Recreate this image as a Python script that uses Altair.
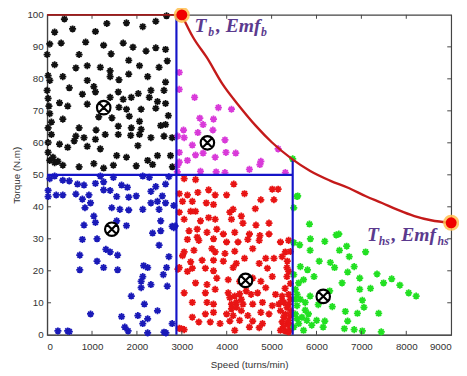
import altair as alt
import pandas as pd

# ---------------- data ----------------
black_pts = [(385,98.7),(167,94.6),(567,95.6),(1076,94.8),(1330,97.3),(1767,97.5),(2130,96.3),(2420,98),(2660,99.7),
             (58,90.9),(312,91.2),(858,91.5),(1258,90.5),(1694,91.2),(1912,89.9),(2203,88.7),(2420,89.7),(2638,89.2),
             (712,87.6),(1425,87.8),(1817,85.8),(2676,85.6),(167,84.4),(640,83.4),(894,84.1),(1185,83.6),(1403,82.5),
             (1817,81.5),(2058,84.1),(2493,83.6),(22,81),(349,80.7),(894,79.5),(1403,80.7),(1600,79.7),(2239,80.7),
             (2638,79),(494,77.2),(1040,77.6),(1076,75.9),(1585,75.9),(2030,75.4),(2312,76.4),(2603,76.4),(22,73.9),
             (276,72.5),(785,75.2),(1403,74.2),(1694,73.6),(1875,74.2),(2276,74.2),(2458,72.9),(2638,72.3),(458,71.5),
             (894,72.1),(1600,71.1),(1767,70.5),(2094,70.5),(2420,70.8),(58,69.1),(349,67.4),(1149,68.1),(1443,67.8),
             (1830,68.3),(2058,66.7),(2638,65.7),(22,64.7),(712,64.7),(1090,64),(1585,65.2),(1875,64.7),(2094,64.2),
             (2530,65.4),(95,62.6),(640,62.1),(821,61.6),(1076,61.1),(1294,62.6),(1585,62.6),(1861,62.3),(2058,62.6),
             (2312,61.6),(2603,62.1),(2785,61.6),(22,60.1),(276,59.6),(458,58.6),(603,60.6),(894,58.9),(1185,58.1),
             (1549,56),(1767,55.5),(2021,59.1),(2239,54.5),(2458,56),(58,54.5),(167,53.8),(349,53),(712,52.5),
             (1040,53.5),(1258,52.1),(1476,53),(1985,52.8),(2349,53.2),(2748,56),(22,57),(0,76.4),(0,87.6),
             (130,55.5),(240,54.2),(95,66.5),(40,71.5),(60,79.5),(2790,52.5),(2700,68.5)]

magenta_pts = [(2943,82),(2943,76.7),(3285,74.2),(3815,71),(4106,70.5),(3401,67.7),(3706,67.4),(3474,65.7),
               (3038,64),(3692,64),(3357,63.2),(2907,62.1),(3052,61.6),(3961,60.9),(3234,59.3),(2943,57),
               (3306,56.2),(3474,56.8),(3743,55.5),(3983,57),(4201,56.8),(5146,58.1),(3125,54.5),(2943,54),
               (4761,54.2),(4739,53.2),(4506,51.7),(3416,51.1),(3765,50.9),(3961,50.7),(5306,50.7),(2900,50.9),
               (2910,53)]

blue_pts = [(58,48.8),(167,49.6),(349,48.3),(494,48.1),(676,47.1),(821,46.8),(1076,47.3),(1185,49.6),(1258,47.8),
            (1476,49.2),(1658,46.8),(1788,46.1),(2130,49.6),(2276,49.2),(2420,46.3),(2638,47.1),(2712,49.4),(22,45.1),
            (22,43.2),(203,43.7),(349,43.7),(640,44),(931,43.7),(1258,45.3),(1403,45.1),(1549,43.2),(1817,43),
            (1985,43.4),(2312,44.8),(2566,43.4),(785,42.4),(967,41.2),(843,39.7),(1440,39.7),(1621,39.2),(1817,39),
            (2130,39.2),(2312,41.2),(2458,41.7),(2638,41.2),(2821,40.4),(2494,39.2),(1040,37.1),(1076,35.1),(821,34.3),
            (1549,35.6),(1767,34.1),(2530,35.6),(2785,33.9),(2349,31.8),(2530,32.5),(785,29.8),(1112,30),(2494,28),
            (1309,26.7),(1403,25.9),(727,24.9),(1570,24.9),(2712,24.4),(1112,23),(727,20.3),(1258,21),(1570,20.3),
            (2150,21.6),(2240,21),(2660,21),(2130,18.2),(2588,18.8),(2094,16.7),(2312,15.7),(2676,15.2),(2094,14.7),
            (1875,12.1),(2166,9.6),(2458,7.5),(967,6.5),(1658,5.7),(2021,6),(2239,5),(1730,2.4),(1803,1.2),(2130,3.5),
            (2785,3.5),(240,1.2),(458,1.2),(494,1),(2239,0.6),(2603,0.8),(2646,0.6),(2821,33.5),(2850,34)]

red_pts = [(3052,48.8),(3307,48.5),(4157,47.1),(5015,45.5),(5146,45.5),(2943,44.1),(3125,43.7),(3357,44.5),(3597,45.3),
           (3743,43.7),(3997,43.7),(4397,44.1),(4760,42.2),(5052,42.2),(3016,41.7),(3234,41.7),(3546,41.2),(3197,38.6),
           (3306,38.6),(3706,40.7),(4143,39.2),(4070,38.3),(4637,39.4),(2943,38.3),(3052,36.1),(3416,35.6),(3597,36.6),
           (3743,36.1),(4106,36.1),(4325,37.1),(4361,34.9),(4652,34.3),(4942,34.9),(3161,32.5),(3343,33),(3561,32),
           (3779,33),(3925,31.5),(4179,32),(4506,31.5),(4739,31),(4942,31.5),(3125,29.8),(3343,30.5),(3379,29.5),
           (3706,30),(3997,29),(4252,29),(4470,29.8),(4724,29.5),(5197,29),(5379,29.5),(3052,25.9),(3016,24.7),
           (3270,26.4),(3670,26.9),(3743,25.9),(3961,25.4),(4179,26.1),(4579,26.9),(4870,23.9),(5052,23.9),(5234,24.4),
           (5306,25.9),(3197,22.8),(3452,23.3),(3706,23.3),(3925,23),(4215,22.3),(4397,23.9),(4724,22.3),(2943,21),
           (3234,20.8),(3525,20.8),(3706,20),(4143,21),(4906,20.8),(5342,21),(5379,19.8),(3125,19.8),(3306,16.2),
           (3561,15.7),(3779,17.7),(4034,17.2),(4288,16.7),(4579,17.7),(4761,16.7),(5015,18.2),(5342,18.2),(3052,13.1),
           (3525,13.1),(3743,14.2),(4034,13.1),(4179,12.1),(4288,12.8),(4434,13.7),(4543,12.6),(4688,13.1),(4870,14.7),
           (5088,12.6),(5234,12.1),(5379,12.6),(3234,10.1),(3561,10.1),(3706,9.6),(4106,9.6),(4215,10.1),(4361,9.6),
           (4579,9.6),(4797,10.1),(5015,9.1),(5160,9.6),(5270,10.1),(5379,9.6),(3525,6.5),(3706,7),(3997,6.5),
           (4106,8.1),(4325,7.5),(4470,6),(4761,7),(4942,6.5),(5197,7.5),(5306,6.5),(5415,6),(3234,5.5),(3379,4),
           (3634,4),(3852,3.5),(4070,4.3),(4288,4.5),(4579,4.3),(4797,3.5),(5234,4),(5342,3.5),(2943,2),(3052,1.6),
           (4179,1.4),(4506,2.4),(4724,2.2),(5197,1.4),(5306,1.2),(5415,1.6),(5379,0.9),(5234,10.6),(5342,8.6),
           (5415,11.1),(5270,5.5),(5379,4.5),(5430,7.5),(5300,14.5),(5420,16),(5260,2.5),(5400,3),(4070,11.6),
           (4215,8.6),(4143,6),(4325,11.1),(2914,20.5),(2987,1.9),(5350,23),(5420,26)]

green_pts = [(5567,43.2),(5494,39.7),(5843,34.6),(6439,31.2),(6497,31.5),(6185,29.2),(5494,28.8),(5625,28.1),
             (5858,26.4),(6512,26.4),(6672,27.7),(7094,25.9),(6730,24.4),(6061,23),(6308,22.6),(6403,21),(5640,21.3),
             (6839,21.3),(5800,20.3),(5494,18.8),(5945,18.2),(6694,19.6),(7348,19),(6963,17.7),(7675,17.5),(7494,16.2),
             (5712,17.2),(6570,16.2),(7203,14.5),(7857,15.5),(8053,13.1),(8220,12.1),(6963,14.2),(6294,13.7),(5858,12.1),
             (5567,12.6),(7021,10.8),(6039,9.4),(6352,8.8),(7057,8.6),(6643,7.3),(6912,6.7),(7385,6.7),(5749,7.7),
             (5567,9.1),(6003,4.5),(6185,4.3),(6694,4.3),(5894,3),(6148,2.4),(6621,1.9),(6839,1.6),(7021,1.2),(7443,0.9),
             (5712,1.4),(5603,3.5),(5530,11.1),(5640,11.1),(5530,6.5),(5676,5.5),(5821,6.5),(5567,5),(5494,2.4),
             (5785,4.5),(5749,10.1),(5530,14.2),(5603,16.2),(5470,55),(5581,43.4),(5864,30)]

centroid_x = [1260, 3570, 1440, 4420, 6150]
centroid_y = [71, 60, 33, 17, 12]

curve_x = [3000, 3250, 3560, 3900, 4290, 4650, 5010, 5450, 5860, 6300, 6730, 7100, 7460, 7800, 8180, 8550, 9000]
curve_y = [100, 93, 86.6, 78.5, 71.3, 65.3, 60.1, 55, 51.2, 48.2, 45.8, 43.3, 41.2, 39.1, 37.1, 35.8, 35]

base_speed, base_torque = 3000, 100
hs_speed, hs_torque = 9000, 35

split_speed_1 = 2880
split_speed_2 = 5470
split_torque = 50

x_ticks = list(range(0, 9001, 1000))
y_ticks = list(range(0, 101, 10))

# ---------------- build tables ----------------
W, H = 413, 327
xs = alt.Scale(domain=[0, 9000], nice=False, zero=False)
ys = alt.Scale(domain=[0, 100], nice=False, zero=False)

x_axis = alt.Axis(values=x_ticks, format="d", title="Speed (turns/min)", ticks=False, grid=False,
                  labelPadding=7, titlePadding=8, labelOverlap=False)
y_axis = alt.Axis(values=y_ticks, format="d", title="Torque (N.m)", ticks=False, grid=False,
                  labelPadding=4, titlePadding=6, labelOverlap=False)
X = alt.X("speed:Q", scale=xs, axis=x_axis)
Y = alt.Y("torque:Q", scale=ys, axis=y_axis)

rows = []
for name, pts in [("black", black_pts), ("magenta", magenta_pts), ("blue", blue_pts),
                  ("red", red_pts), ("green", green_pts)]:
    for (a, b) in pts:
        rows.append({"speed": a, "torque": b, "cluster": name})
pts_df = pd.DataFrame(rows)

colors = {"black": "#111111", "magenta": "#d93ad9", "blue": "#1a1ab8", "red": "#e81414", "green": "#22e022"}

star = "M-1,0L1,0M0,-1L0,1M-0.7,-0.7L0.7,0.7M-0.7,0.7L0.7,-0.7"
otimes = "M1,0A1,1 0 1,1 -1,0A1,1 0 1,1 1,0ZM-0.7,-0.7L0.7,0.7M-0.7,0.7L0.7,-0.7"

points = alt.Chart(pts_df).mark_point(shape=star, size=52, strokeWidth=1.8, filled=False, opacity=1).encode(
    x=X, y=Y,
    stroke=alt.Stroke("cluster:N", scale=alt.Scale(domain=list(colors.keys()), range=list(colors.values())),
                      legend=None),
)

seg_df = pd.DataFrame([
    {"speed": split_speed_1, "torque": 0, "speed2": split_speed_1, "torque2": 100},
    {"speed": 0, "torque": split_torque, "speed2": split_speed_2, "torque2": split_torque},
    {"speed": split_speed_2, "torque": 0, "speed2": split_speed_2, "torque2": curve_y[7]},
])
blue_lines = alt.Chart(seg_df).mark_rule(color="#1414c8", strokeWidth=2.2).encode(
    x=X, y=Y, x2="speed2:Q", y2="torque2:Q")

top_df = pd.DataFrame({"speed": [0], "torque": [base_torque], "speed2": [base_speed]})
top_line = alt.Chart(top_df).mark_rule(color="#9e1b1b", strokeWidth=2).encode(x=X, y=Y, x2="speed2:Q")

curve_df = pd.DataFrame({"speed": curve_x, "torque": curve_y})
curve = alt.Chart(curve_df).mark_line(color="#c41a1a", strokeWidth=2.4, interpolate="monotone").encode(x=X, y=Y)

dot_df = pd.DataFrame({"speed": [base_speed, hs_speed], "torque": [base_torque, hs_torque]})
halo = alt.Chart(dot_df).mark_circle(color="#ffbf50", size=270, opacity=0.85).encode(x=X, y=Y)
dots = alt.Chart(dot_df).mark_circle(color="#f00000", size=125, opacity=1).encode(x=X, y=Y)

cen_df = pd.DataFrame({"speed": centroid_x, "torque": centroid_y})
cents = alt.Chart(cen_df).mark_point(shape=otimes, size=190, fill="white", stroke="#000000",
                                     strokeWidth=2.2, filled=True, opacity=1).encode(x=X, y=Y)

# annotation pieces (text, anchor speed, anchor torque, dx, dy, size)
lab_rows = [
    ("T", base_speed, base_torque, 13, 18, 20),
    ("b", base_speed, base_torque, 27, 22, 12),
    (", Emf", base_speed, base_torque, 35, 18, 20),
    ("b", base_speed, base_torque, 81, 22, 12),
    ("T", hs_speed, hs_torque, -86, 19, 20),
    ("hs", hs_speed, hs_torque, -74, 23, 12),
    (", Emf", hs_speed, hs_torque, -61, 19, 20),
    ("hs", hs_speed, hs_torque, -14, 23, 12),
]
labels = []
for t, a, b, dx, dy, fs in lab_rows:
    d = pd.DataFrame({"speed": [a], "torque": [b]})
    labels.append(alt.Chart(d).mark_text(text=t, align="left", baseline="alphabetic", dx=dx, dy=dy,
                                         font="Liberation Serif", fontStyle="italic", fontWeight="bold",
                                         fontSize=fs, color="#5b3a8e").encode(x=X, y=Y))

# inward frame ticks
xt = pd.DataFrame({"speed": x_ticks[1:-1]})
yt = pd.DataFrame({"torque": y_ticks[1:-1]})
tick_style = dict(color="#444444", strokeWidth=1)
xt_bottom = alt.Chart(xt).mark_rule(**tick_style).encode(x=X, y=alt.value(H), y2=alt.value(H - 4))
xt_top = alt.Chart(xt).mark_rule(**tick_style).encode(x=X, y=alt.value(0), y2=alt.value(4))
yt_left = alt.Chart(yt).mark_rule(**tick_style).encode(y=Y, x=alt.value(0), x2=alt.value(4))
yt_right = alt.Chart(yt).mark_rule(**tick_style).encode(y=Y, x=alt.value(W), x2=alt.value(W - 4))

chart = alt.layer(points, xt_bottom, xt_top, yt_left, yt_right, blue_lines, top_line, curve,
                  halo, dots, cents, *labels).properties(
    width=W, height=H,
    autosize=alt.AutoSizeParams(type="none"),
    padding={"left": 40, "top": 3, "right": 8, "bottom": 32},
    background="white",
).configure_view(stroke="#444444", strokeWidth=1.2).configure_axis(
    labelFont="Liberation Sans", labelFontSize=10, labelColor="#333333",
    titleFont="Liberation Sans", titleFontSize=10, titleFontWeight="normal", titleColor="#333333",
    domainColor="#444444", domainWidth=1.2,
)

chart.save("out.html", embed_options={"renderer": "svg", "actions": False})
